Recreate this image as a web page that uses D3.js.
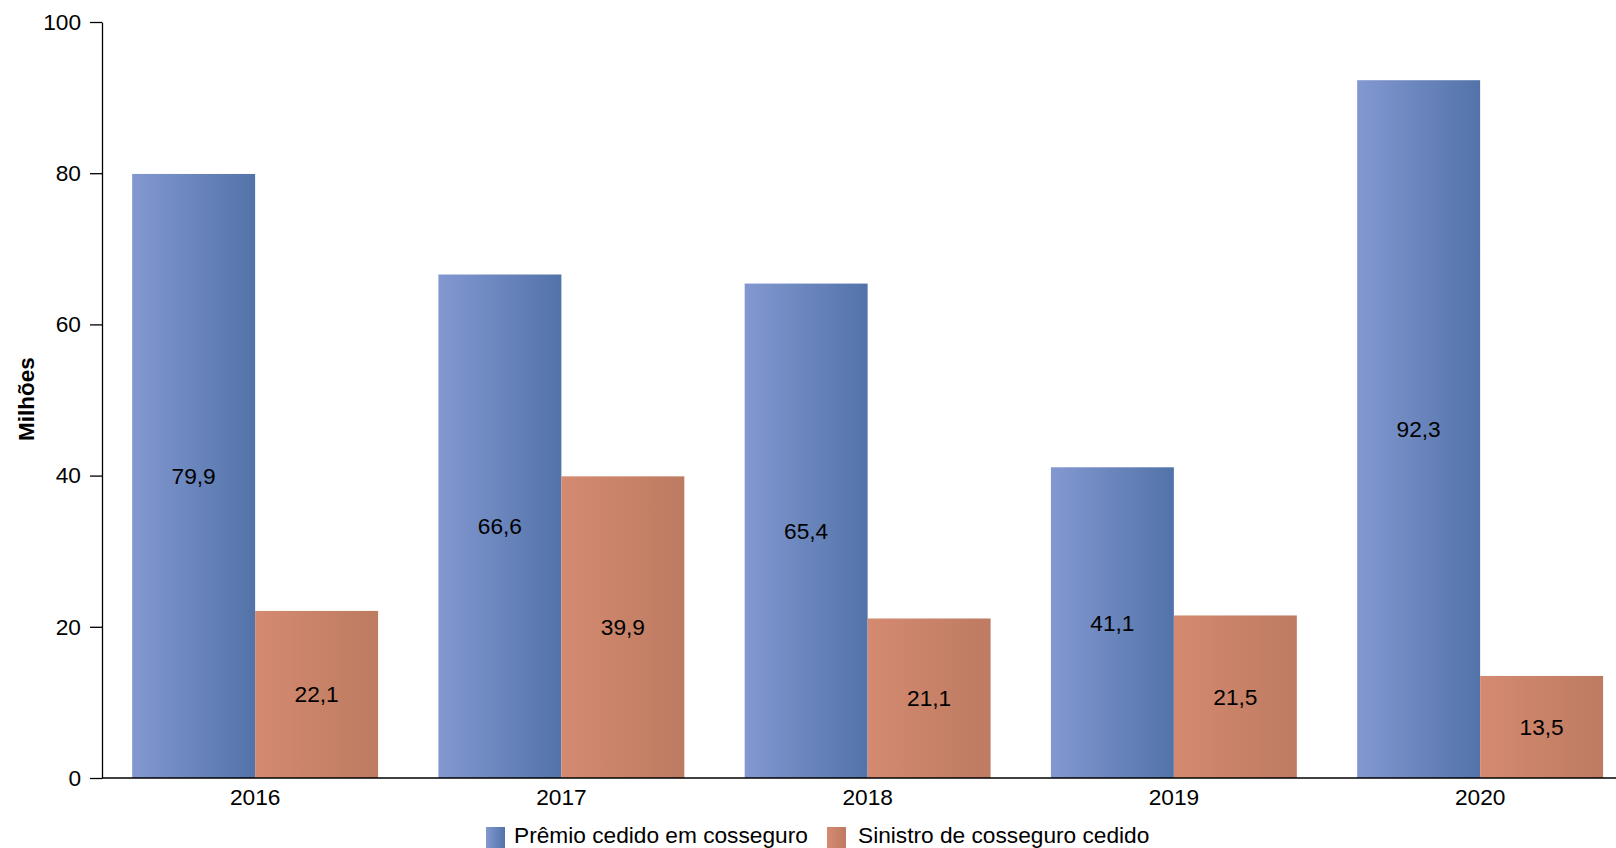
<!DOCTYPE html>
<html>
<head>
<meta charset="utf-8">
<script src="https://cdn.jsdelivr.net/npm/d3@7"></script>
<style>
  html, body { margin: 0; padding: 0; background: #fff; overflow: hidden; }
  svg { display: block; }
  text { font-family: "Liberation Sans", Arial, sans-serif; fill: #000; }
</style>
</head>
<body>
<svg id="chart" width="1616" height="848"></svg>
<script>
const categories = ["2016", "2017", "2018", "2019", "2020"];
const seriesNames = ["Prêmio cedido em cosseguro", "Sinistro de cosseguro cedido"];
const premioValues = [79.9, 66.6, 65.4, 41.1, 92.3];
const sinistroValues = [22.1, 39.9, 21.1, 21.5, 13.5];
const yTicks = [0, 20, 40, 60, 80, 100];
const yTitle = "Milhões";

(function () {
const seriesKeys = ["premio", "sinistro"];
const seriesValues = { premio: premioValues, sinistro: sinistroValues };
const gradColors = {
  premio: ["#8398d1", "#5273a9"],
  sinistro: ["#d48a70", "#bd7b61"]
};
const FS = "22.7px";

const W = 1616, H = 848;
const svg = d3.select("#chart");

const mLeft = 102, mTop = 22, mBottom = 778;
const step = 306.25;

const x = d3.scaleBand()
  .domain(categories)
  .range([mLeft, mLeft + step * categories.length])
  .paddingInner(0.197)
  .paddingOuter(0.0985);

const xInner = d3.scaleBand()
  .domain(seriesKeys)
  .range([0, x.bandwidth()])
  .padding(0);

const y = d3.scaleLinear().domain([0, 100]).range([mBottom, mTop]);

const fmt = v => d3.format(".1f")(v).replace(".", ",");

const defs = svg.append("defs");
seriesKeys.forEach(k => {
  const g = defs.append("linearGradient")
    .attr("id", "grad-" + k)
    .attr("x1", "0%").attr("y1", "0%").attr("x2", "100%").attr("y2", "0%");
  g.append("stop").attr("offset", "0%").attr("stop-color", gradColors[k][0]);
  g.append("stop").attr("offset", "100%").attr("stop-color", gradColors[k][1]);
});

const rows = categories.map((c, i) => ({
  cat: c,
  vals: seriesKeys.map(k => ({ key: k, value: seriesValues[k][i] }))
}));

const groups = svg.append("g").selectAll("g")
  .data(rows).join("g")
  .attr("transform", d => `translate(${x(d.cat)},0)`);

groups.selectAll("rect")
  .data(d => d.vals).join("rect")
  .attr("x", d => xInner(d.key))
  .attr("y", d => y(d.value))
  .attr("width", xInner.bandwidth())
  .attr("height", d => y(0) - y(d.value))
  .attr("fill", d => `url(#grad-${d.key})`);

groups.selectAll("text.val")
  .data(d => d.vals).join("text")
  .attr("class", "val")
  .attr("x", d => xInner(d.key) + xInner.bandwidth() / 2)
  .attr("y", d => (y(d.value) + y(0)) / 2)
  .attr("dy", "0.35em")
  .attr("text-anchor", "middle")
  .style("font-size", FS)
  .text(d => fmt(d.value));

const yAxis = svg.append("g")
  .attr("transform", `translate(${mLeft},0)`)
  .call(d3.axisLeft(y).tickValues(yTicks).tickSize(12).tickSizeOuter(0).tickPadding(9));
yAxis.selectAll("text").style("font-size", FS).attr("fill", "#000");
yAxis.selectAll("line").attr("stroke", "#000").attr("stroke-width", 1.3);
yAxis.select(".domain").attr("stroke", "#000").attr("stroke-width", 1.3);

const xAxis = svg.append("g")
  .attr("transform", `translate(0,${mBottom})`)
  .call(d3.axisBottom(x).tickSize(0).tickSizeOuter(0).tickPadding(11));
xAxis.select(".domain").attr("stroke", "#000").attr("stroke-width", 1.6)
  .attr("d", `M${mLeft},0H${W}`);
xAxis.selectAll("text").style("font-size", FS).attr("fill", "#000");

svg.append("text")
  .attr("transform", `translate(26,399) rotate(-90)`)
  .attr("text-anchor", "middle")
  .attr("dy", "0.35em")
  .style("font-size", "22.5px")
  .style("font-weight", "bold")
  .text(yTitle);

const legendPos = [{ sx: 486, tx: 514 }, { sx: 827, tx: 858 }];
const legend = svg.append("g");
seriesKeys.forEach((k, i) => {
  legend.append("rect")
    .attr("x", legendPos[i].sx).attr("y", 827)
    .attr("width", 19).attr("height", 22)
    .attr("fill", `url(#grad-${k})`);
  legend.append("text")
    .attr("x", legendPos[i].tx).attr("y", 843)
    .style("font-size", FS)
    .text(seriesNames[i]);
});
})();
</script>
</body>
</html>
